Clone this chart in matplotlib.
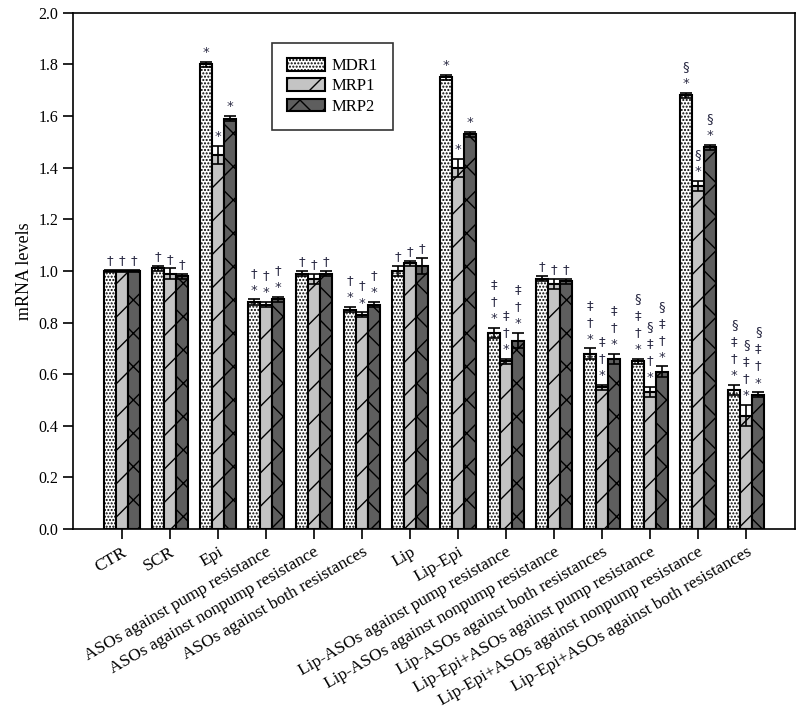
import numpy as np
import matplotlib
matplotlib.use('Agg')
import matplotlib.pyplot as plt

plt.rcParams['font.family'] = ['Liberation Serif', 'DejaVu Serif']
plt.rcParams['hatch.linewidth'] = 1.0

groups = ['CTR', 'SCR', 'Epi',
          'ASOs against pump resistance',
          'ASOs against nonpump resistance',
          'ASOs against both resistances',
          'Lip', 'Lip-Epi',
          'Lip-ASOs against pump resistance',
          'Lip-ASOs against nonpump resistance',
          'Lip-ASOs against both resistances',
          'Lip-Epi+ASOs against pump resistance',
          'Lip-Epi+ASOs against nonpump resistance',
          'Lip-Epi+ASOs against both resistances']

mdr1 = [1.00, 1.01, 1.80, 0.88, 0.99, 0.85, 1.00, 1.75, 0.76, 0.97, 0.68, 0.65, 1.68, 0.54]
mrp1 = [1.00, 0.99, 1.45, 0.87, 0.97, 0.83, 1.03, 1.40, 0.65, 0.95, 0.55, 0.53, 1.33, 0.44]
mrp2 = [1.00, 0.98, 1.59, 0.89, 0.99, 0.87, 1.02, 1.53, 0.73, 0.96, 0.66, 0.61, 1.48, 0.52]

mdr1_err = [0.005, 0.01, 0.01, 0.01, 0.01, 0.01, 0.02, 0.01, 0.02, 0.01, 0.02, 0.01, 0.01, 0.02]
mrp1_err = [0.005, 0.02, 0.035, 0.01, 0.02, 0.01, 0.01, 0.035, 0.01, 0.02, 0.01, 0.02, 0.02, 0.04]
mrp2_err = [0.005, 0.01, 0.01, 0.01, 0.01, 0.01, 0.03, 0.01, 0.03, 0.01, 0.02, 0.02, 0.01, 0.01]

# significance marks per group (same for all three genes)
marks = ['†', '†', '*', '†\n*', '†', '†\n*', '†', '*',
         '‡\n†\n*', '†', '‡\n†\n*', '§\n‡\n†\n*', '§\n*', '§\n‡\n†\n*']

series = [('MDR1', mdr1, mdr1_err, 'white', '.....'),
          ('MRP1', mrp1, mrp1_err, '#c4c4c4', '/'),
          ('MRP2', mrp2, mrp2_err, '#5e5e5e', 'x')]

fig = plt.figure(figsize=(8, 7.15), dpi=100)
ax = fig.add_axes([0.091, 0.26, 0.903, 0.722])

x = np.arange(len(groups))
w = 0.25
for i, (name, vals, errs, col, hatch) in enumerate(series):
    pos = x + (i - 1) * w
    ax.bar(pos, vals, w, color=col, edgecolor='black', linewidth=1.5,
           hatch=hatch, label=name, zorder=2)
    ax.errorbar(pos, vals, yerr=errs, fmt='none', ecolor='black',
                elinewidth=1.2, capsize=4, capthick=1.2, zorder=3)
    for p, v, e, m in zip(pos, vals, errs, marks):
        ax.annotate(m, (p, v + e), xytext=(0, 2), textcoords='offset points',
                    ha='center', va='bottom', fontsize=9.5, linespacing=1.4,
                    color='#2a2a44', family=['DejaVu Sans'])

ax.set_xlim(-1.02, 14.02)
ax.set_ylim(0, 2.0)
ax.set_yticks(np.arange(0, 2.01, 0.2))
ax.set_yticklabels([f'{t:.1f}' for t in np.arange(0, 2.01, 0.2)], fontsize=11.5)
ax.set_xticks(x)
ax.set_xticklabels(groups, rotation=30, ha='right', rotation_mode='anchor', fontsize=12.5)
ax.tick_params(axis='both', direction='out', length=7, width=1.2)
ax.tick_params(axis='x', pad=4)
for s in ax.spines.values():
    s.set_linewidth(1.2)
ax.set_ylabel('mRNA levels', fontsize=13)

leg = ax.legend(loc='upper left', bbox_to_anchor=(0.34, 0.94),
                bbox_transform=fig.transFigure, borderaxespad=0,
                fontsize=12, frameon=True, fancybox=False, edgecolor='black',
                handlelength=2.3, handleheight=0.8, handletextpad=0.4,
                borderpad=0.9, labelspacing=0.25)
leg.get_frame().set_linewidth(1.2)

plt.savefig('out.png', dpi=100)
